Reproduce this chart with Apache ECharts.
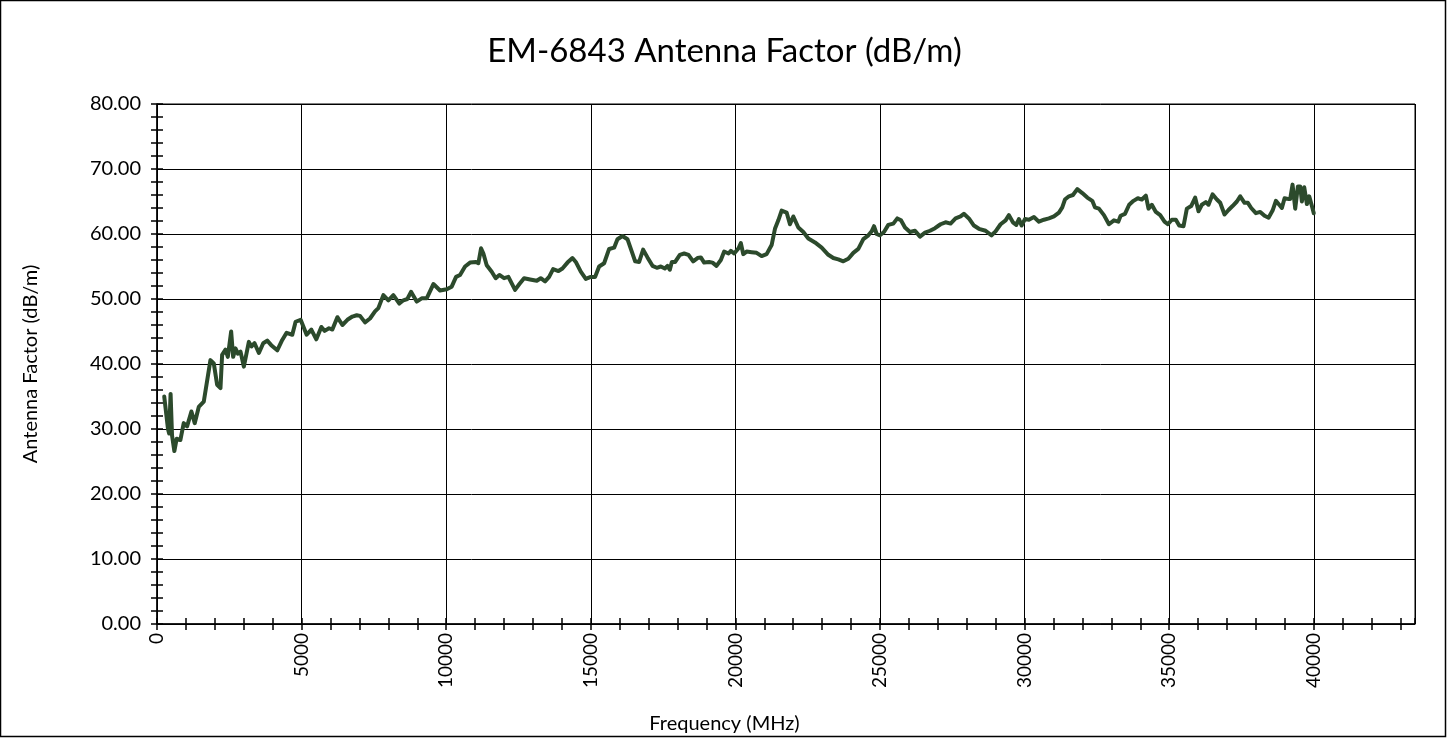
<!DOCTYPE html>
<html>
<head>
<meta charset="utf-8">
<script src="https://cdn.jsdelivr.net/npm/echarts@6/dist/echarts.min.js"></script>
<style>
  html, body { margin: 0; padding: 0; background: #fff; }
  #chart { width: 1449px; height: 738px; }
</style>
</head>
<body>
<div id="chart"></div>
<script>
// frequency (MHz) / antenna factor (dB/m)
var frequencyMHz = [
  250, 300, 380, 420, 470, 520, 600, 680, 808, 924, 1040, 1190, 1305, 1444, 1617, 1848, 1964, 2079, 2195, 2252,
  2368, 2449, 2564, 2633, 2714, 2795, 2888, 3003, 3176, 3269, 3373, 3523, 3673, 3812, 3950, 4158, 4331, 4481, 4678, 4793,
  4967, 5174, 5336, 5509, 5683, 5798, 5948, 6064, 6237, 6410, 6584, 6757,
  6905, 7020, 7193, 7366, 7539, 7654, 7827, 8000, 8173, 8380, 8519, 8657, 8784, 8980, 9153, 9326, 9557, 9787, 10018, 10190,
  10341, 10479, 10652, 10825, 11032, 11113, 11205, 11286, 11401, 11574, 11712, 11839, 12001, 12151, 12381, 12531, 12693, 12900, 13131, 13269, 13419,
  13559, 13697, 13882, 14020, 14193, 14366, 14481, 14654, 14827, 15000, 15150, 15288, 15461, 15634, 15807, 15922, 16095, 16268, 16418, 16534,
  16672, 16810, 16960, 17133, 17283, 17422, 17560, 17652, 17733, 17802, 17917, 18079, 18229, 18378, 18540, 18690, 18805, 18920, 19093, 19209,
  19347, 19497, 19612, 19762, 19843, 19958, 20108, 20189,
  20272, 20388, 20561, 20734, 20907, 21080, 21253, 21368, 21484, 21599, 21772, 21887, 22003, 22176, 22349, 22522, 22752, 22983, 23213, 23386,
  23559, 23732, 23905, 24078, 24251, 24424, 24597, 24712, 24793, 24885, 25000, 25138, 25288, 25461, 25599, 25726, 25865, 26038, 26211, 26384,
  26557, 26730, 26903,
  27094, 27267, 27440, 27613, 27786, 27901, 28074, 28247, 28420, 28651, 28858, 28997, 29170, 29343, 29458, 29596, 29712, 29804, 29896, 30012,
  30150, 30323, 30496, 30669, 30842, 31015, 31188, 31303, 31395, 31534, 31672, 31822, 31995, 32168, 32341, 32433, 32571, 32744, 32917, 33090,
  33240, 33321, 33471,
  33616, 33766, 33916, 34055, 34193, 34285, 34400, 34539, 34689, 34839, 34954, 35092, 35231, 35346, 35496, 35611, 35761, 35899, 36014, 36130,
  36268, 36360, 36499, 36649, 36764, 36914, 37052, 37191, 37341, 37456, 37606, 37721, 37836, 37998, 38148, 38298, 38436, 38575, 38690, 38805,
  38897, 38990, 39105, 39185, 39266, 39358, 39450, 39531, 39589, 39670, 39762, 39842, 39935, 40000
];
var antennaFactor = [
  35.0, 35.3, 30.0, 29.3, 35.4, 29.0, 26.6, 28.5, 28.3, 30.9, 30.4, 32.7, 30.9, 33.4, 34.2, 40.6, 40.1, 36.8, 36.3, 41.4,
  42.2, 41.1, 45.0, 41.1, 42.4, 41.6, 41.9, 39.6, 43.4, 42.7, 43.2, 41.7, 43.2, 43.6, 42.9, 42.1, 43.7, 44.8, 44.5, 46.5,
  46.8, 44.5, 45.3, 43.8, 45.7, 45.1, 45.5, 45.3, 47.2, 46.0, 46.8, 47.3,
  47.5, 47.4, 46.4, 47.0, 48.1, 48.6, 50.6, 49.8, 50.6, 49.3, 49.8, 50.0, 51.1, 49.6, 50.1, 50.1, 52.3, 51.3, 51.5, 51.9,
  53.4, 53.7, 55.0, 55.6, 55.7, 55.5, 57.8, 57.0, 55.2, 54.2, 53.2, 53.7, 53.2, 53.4, 51.4, 52.3, 53.2, 53.0, 52.8, 53.2, 52.7,
  53.4, 54.6, 54.3, 54.7, 55.6, 56.3, 55.7, 54.2, 53.1, 53.4, 53.4, 55.0, 55.5, 57.7, 57.9, 59.2, 59.7, 59.2, 57.3, 55.8,
  55.7, 57.6, 56.4, 55.1, 54.8, 55.0, 54.7, 55.1, 54.5, 55.7, 55.7, 56.8, 57.0, 56.8, 55.8, 56.3, 56.4, 55.6, 55.7, 55.6,
  55.1, 56.0, 57.3, 57.0, 57.4, 57.0, 57.8, 58.6,
  56.9, 57.3, 57.2, 57.1, 56.6, 56.9, 58.3, 60.8, 62.1, 63.6, 63.3, 61.5, 62.7, 61.0, 60.3, 59.3, 58.7, 57.9, 56.8, 56.3,
  56.1, 55.8, 56.2, 57.1, 57.7, 59.2, 59.8, 60.4, 61.2, 60.0, 59.8, 60.3, 61.4, 61.6, 62.4, 62.1, 61.0, 60.3, 60.5, 59.6,
  60.2, 60.5, 60.9,
  61.5, 61.8, 61.6, 62.4, 62.7, 63.1, 62.4, 61.3, 60.8, 60.5, 59.8, 60.4, 61.5, 62.1, 62.9, 61.8, 61.4, 62.3, 61.3, 62.3,
  62.2, 62.6, 61.9, 62.2, 62.4, 62.7, 63.3, 64.1, 65.3, 65.8, 66.0, 66.9, 66.3, 65.6, 65.1, 64.1, 63.9, 62.9, 61.5, 62.1,
  61.9, 62.8, 63.1,
  64.5, 65.1, 65.5, 65.3, 65.9, 63.9, 64.5, 63.4, 62.9, 61.9, 61.5, 62.2, 62.2, 61.3, 61.2, 63.9, 64.3, 65.6, 63.5, 64.5,
  64.9, 64.5, 66.1, 65.3, 64.8, 63.0, 63.7, 64.3, 65.0, 65.8, 64.8, 64.8, 64.0, 63.2, 63.4, 62.8, 62.5, 63.6, 65.1, 64.5,
  64.0, 65.5, 65.4, 65.4, 67.6, 63.9, 67.3, 67.3, 65.0, 67.2, 64.6, 65.8, 64.3, 63.2
];

var X_MAX = 43500;
var X_MAJOR = 5000;
var X_MINOR = 1000;
var Y_MAX = 80;
var Y_MAJOR = 10;

var chart = echarts.init(document.getElementById("chart"));

var seriesData = [];
for (var i = 0; i < frequencyMHz.length; i++) {
  seriesData.push([frequencyMHz[i], antennaFactor[i]]);
}

var font = "Lato, 'Open Sans', sans-serif";
var black = "#000";

// x axes all share the same scale; 0 = labels + outer ticks, 1 = inner ticks, 2 = grid lines
var xBase = { type: "value", min: 0, max: X_MAX, position: "bottom", offset: 0 };

var option = {
  animation: false,
  backgroundColor: "#fff",
  textStyle: { fontFamily: font },
  title: [
    {
      text: "EM-6843 Antenna Factor (dB/m)",
      left: "center",
      top: 30,
      textStyle: { fontFamily: font, fontSize: 33, fontWeight: "normal", color: black },
    },
    {
      text: "Frequency (MHz)",
      left: "center",
      top: 709,
      textStyle: { fontFamily: font, fontSize: 20, fontWeight: "normal", color: black },
    },
  ],
  graphic: [
    {
      type: "rect",
      silent: true,
      z: 100,
      shape: { x: 0.5, y: 0.5, width: 1445, height: 736 },
      style: { fill: "none", stroke: black, lineWidth: 1.5 },
    },
  ],
  grid: {
    left: 157,
    top: 104,
    width: 1258,
    height: 520,
    show: true,
    borderColor: black,
    borderWidth: 1,
    containLabel: false,
  },
  xAxis: [
    Object.assign({}, xBase, {
      interval: X_MINOR,
      axisLine: { show: true, lineStyle: { color: black, width: 1.5 } },
      axisTick: { show: true, inside: false, length: 6, lineStyle: { color: black, width: 1.5 } },
      axisLabel: {
        show: true,
        rotate: 90,
        margin: 9,
        fontSize: 19,
        fontFamily: font,
        color: black,
        showMaxLabel: false,
        formatter: function (v) {
          return v % X_MAJOR === 0 ? String(v) : "";
        },
      },
      splitLine: { show: false },
    }),
    Object.assign({}, xBase, {
      interval: X_MINOR,
      axisLine: { show: false },
      axisTick: { show: true, inside: true, length: 6, lineStyle: { color: black, width: 1.5 } },
      axisLabel: { show: false },
      splitLine: { show: false },
    }),
    Object.assign({}, xBase, {
      interval: X_MAJOR,
      axisLine: { show: false },
      axisTick: { show: false },
      axisLabel: { show: false },
      splitLine: { show: true, lineStyle: { color: black, width: 1 } },
    }),
  ],
  yAxis: [
    {
      type: "value",
      min: 0,
      max: Y_MAX,
      interval: Y_MAJOR,
      position: "left",
      offset: 0,
      name: "Antenna Factor (dB/m)",
      nameLocation: "middle",
      nameGap: 116,
      nameTextStyle: { fontFamily: font, fontSize: 20, color: black },
      axisLine: { show: true, lineStyle: { color: black, width: 1.5 } },
      axisTick: { show: true, inside: false, length: 6, lineStyle: { color: black, width: 1.5 } },
      minorTick: { show: true, splitNumber: 5, length: 6, lineStyle: { color: black, width: 1.5 } },
      axisLabel: {
        margin: 16,
        fontSize: 20,
        fontFamily: font,
        color: black,
        formatter: function (v) {
          return v.toFixed(2);
        },
      },
      splitLine: { show: true, lineStyle: { color: black, width: 1 } },
    },
    {
      type: "value",
      min: 0,
      max: Y_MAX,
      interval: Y_MAJOR,
      position: "left",
      offset: 0,
      axisLine: { show: false },
      axisTick: { show: true, inside: true, length: 6, lineStyle: { color: black, width: 1.5 } },
      minorTick: { show: true, splitNumber: 5, length: 6, lineStyle: { color: black, width: 1.5 } },
      axisLabel: { show: false },
      splitLine: { show: false },
    },
  ],
  series: [
    {
      name: "Antenna Factor",
      type: "line",
      xAxisIndex: 0,
      yAxisIndex: 0,
      showSymbol: false,
      symbol: "none",
      smooth: false,
      lineStyle: { color: "#2c4a2c", width: 4, join: "round", cap: "round" },
      data: seriesData,
      z: 5,
    },
  ],
};

chart.setOption(option);
</script>
</body>
</html>
